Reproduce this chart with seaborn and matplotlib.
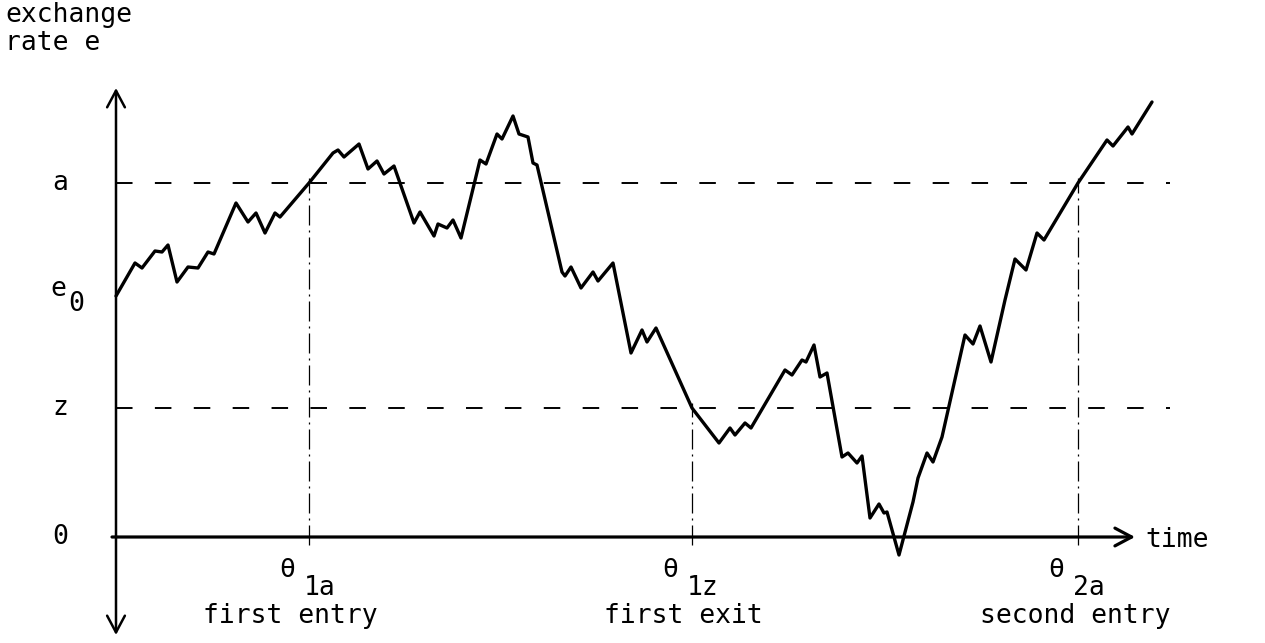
import numpy as np
import pandas as pd
import matplotlib
matplotlib.use("Agg")
import matplotlib.pyplot as plt
import seaborn as sns

# ---------------- data ----------------
# time axis and exchange-rate path
t = [0.00, 0.19, 0.26, 0.39, 0.46, 0.52, 0.61, 0.72, 0.82, 0.92, 0.98,
     1.20, 1.32, 1.40, 1.49, 1.59, 1.64, 1.93, 2.17, 2.22, 2.28, 2.43,
     2.52, 2.61, 2.68, 2.78, 2.98, 3.04, 3.18, 3.22, 3.31, 3.37, 3.45,
     3.64, 3.70, 3.81, 3.86, 3.97, 4.03, 4.12, 4.17, 4.21, 4.46, 4.49,
     4.55, 4.65, 4.77, 4.82, 4.97, 5.15, 5.26, 5.31, 5.40, 5.76, 6.03,
     6.14, 6.19, 6.29, 6.35, 6.69, 6.76, 6.86, 6.90, 6.98, 7.04, 7.11,
     7.26, 7.32, 7.41, 7.46, 7.54, 7.63, 7.68, 7.71, 7.83, 7.97, 8.02,
     8.11, 8.17, 8.26, 8.49, 8.57, 8.64, 8.75, 8.89, 8.99, 9.10, 9.21,
     9.28, 9.62, 9.91, 9.97, 10.12, 10.16, 10.36]
e = [2.41, 2.74, 2.69, 2.86, 2.85, 2.92, 2.55, 2.70, 2.69, 2.85, 2.83,
     3.34, 3.15, 3.24, 3.04, 3.24, 3.20, 3.54, 3.84, 3.87, 3.80, 3.93,
     3.68, 3.76, 3.63, 3.71, 3.14, 3.25, 3.01, 3.13, 3.09, 3.17, 2.99,
     3.77, 3.73, 4.03, 3.98, 4.21, 4.03, 4.00, 3.74, 3.72, 2.65, 2.61,
     2.70, 2.49, 2.65, 2.56, 2.74, 1.84, 2.07, 1.95, 2.09, 1.29, 0.94,
     1.09, 1.02, 1.14, 1.09, 1.67, 1.62, 1.77, 1.75, 1.92, 1.60, 1.64,
     0.80, 0.84, 0.74, 0.81, 0.19, 0.33, 0.24, 0.25, -0.18, 0.35, 0.59,
     0.84, 0.75, 1.00, 2.02, 1.93, 2.11, 1.75, 2.37, 2.78, 2.67, 3.04,
     2.97, 3.54, 3.97, 3.91, 4.10, 4.03, 4.35]

# band limits
level_a = 3.54
level_e0 = 2.41
level_z = 1.29

# crossing times and their labels
theta_t = [1.93, 5.76, 9.62]
theta_level = [level_a, level_z, level_a]
theta_sub = ["1a", "1z", "2a"]
theta_desc = ["first entry", "first exit", "second entry"]

df = pd.DataFrame({"time": t, "rate": e})

# ---------------- figure ----------------
sns.set_style("white")
plt.rcParams["font.family"] = ["DejaVu Sans Mono", "DejaVu Sans"]
plt.rcParams["text.color"] = "black"

fig = plt.figure(figsize=(12.65, 6.43), dpi=100)
ax = fig.add_axes([0, 0, 1, 1])
ax.set_xlim(-1.16, 11.49)
ax.set_ylim(-1.06, 5.37)
ax.axis("off")

fs = 19

# axes with arrows
arrow = dict(arrowstyle="->,head_length=0.6,head_width=0.32", lw=1.8,
             color="black", mutation_scale=20, shrinkA=0, shrinkB=0)
ax.annotate("", xy=(0, 4.49), xytext=(0, 0), arrowprops=arrow)
ax.annotate("", xy=(0, -0.98), xytext=(0, 0.01), arrowprops=arrow)
ax.annotate("", xy=(10.19, 0), xytext=(-0.04, 0),
            arrowprops=dict(arrow, lw=2.3))

# dashed band lines
for lev in [level_a, level_z]:
    ax.plot([0, 10.54], [lev, lev], color="black", lw=1.4,
            dashes=(8.5, 11.5), solid_capstyle="butt")

# dash-dot verticals at crossing times
for x, lev in zip(theta_t, theta_level):
    ax.plot([x, x], [-0.08, lev + 0.05], color="black", lw=0.9,
            dashes=(16, 4, 1.6, 4))

# the exchange-rate path
sns.lineplot(data=df, x="time", y="rate", sort=False, estimator=None,
             color="black", lw=2.4, ax=ax)

# level labels
ax.text(-0.56, level_a, "a", fontsize=fs, ha="center", va="center")
ax.text(-0.58, level_e0 + 0.07, "e", fontsize=fs, ha="center", va="center")
ax.text(-0.40, level_e0 - 0.08, "0", fontsize=fs, ha="center", va="center")
ax.text(-0.56, level_z, "z", fontsize=fs, ha="center", va="center")
ax.text(-0.56, 0, "0", fontsize=fs, ha="center", va="center")

# axis titles
ax.text(-1.11, 5.22, "exchange", fontsize=fs, ha="left", va="center")
ax.text(-1.11, 4.94, "rate e", fontsize=fs, ha="left", va="center")
ax.text(10.29, -0.03, "time", fontsize=fs, ha="left", va="center")

# time labels
desc_shift = [-0.19, -0.09, -0.03]
for x, sub, desc, dx in zip(theta_t, theta_sub, theta_desc, desc_shift):
    ax.text(x - 0.22, -0.33, "\u03b8", fontsize=fs, ha="center", va="center")
    ax.text(x + 0.11, -0.51, sub, fontsize=fs, ha="center", va="center")
    ax.text(x + dx, -0.79, desc, fontsize=fs, ha="center", va="center")

fig.savefig("out.png", dpi=100)
